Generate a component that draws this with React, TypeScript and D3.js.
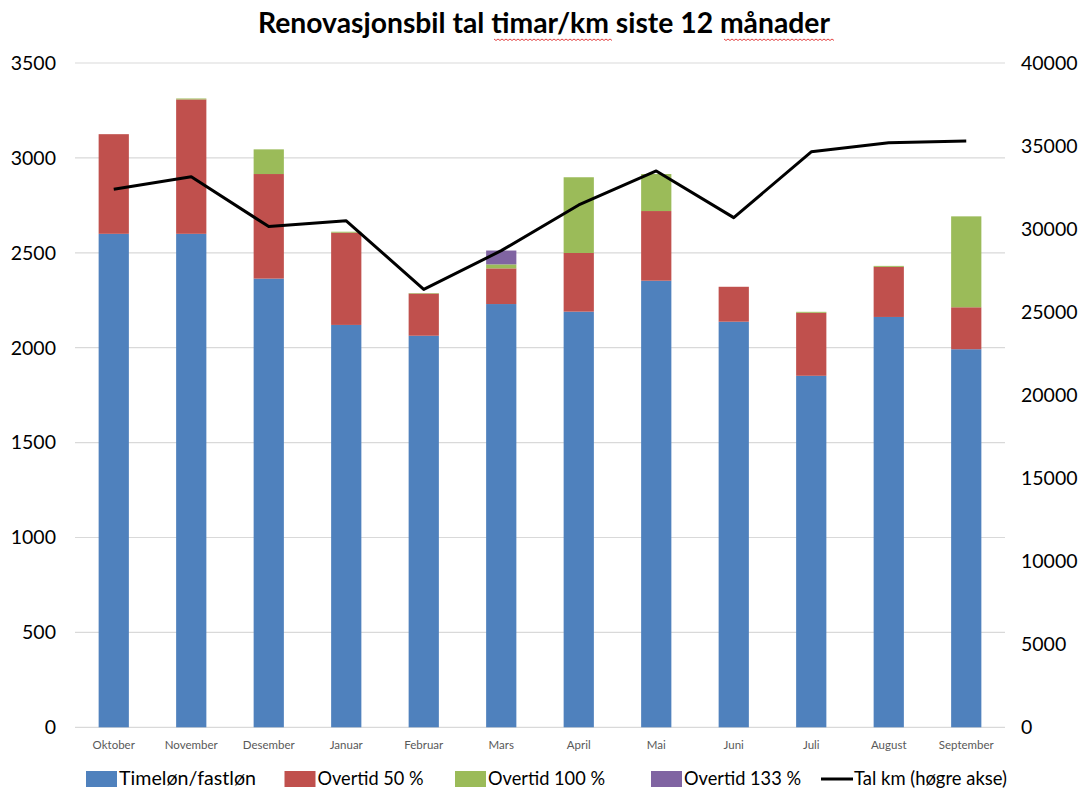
import React from "react";
import * as d3 from "d3";

const months = ["Oktober", "November", "Desember", "Januar", "Februar", "Mars", "April", "Mai", "Juni", "Juli", "August", "September"];
const timelon = [2600, 2600, 2364, 2120, 2063, 2230, 2190, 2353, 2137, 1852, 2162, 1992];
const overtid50 = [525, 708, 551, 486, 222, 188, 309, 367, 184, 332, 264, 221];
const overtid100 = [0, 5, 130, 5, 3, 21, 399, 195, 0, 5, 5, 479];
const overtid133 = [0, 0, 0, 0, 0, 73, 0, 0, 0, 0, 0, 0];
const talKm = [32400, 33150, 30150, 30500, 26370, 28700, 31450, 33500, 30690, 34650, 35200, 35300];
const leftTicks = [0, 500, 1000, 1500, 2000, 2500, 3000, 3500];
const rightTicks = [0, 5000, 10000, 15000, 20000, 25000, 30000, 35000, 40000];

const seriesNames = ["Timeløn/fastløn", "Overtid 50 %", "Overtid 100 %", "Overtid 133 %"];
const seriesData = [timelon, overtid50, overtid100, overtid133];
const colors = ["#4F81BD", "#C0504D", "#9BBB59", "#8064A2"];

const W = 1082, H = 792;
const plot = { left: 75, right: 1005, top: 63, bottom: 727.3 };
const font = "Lato, 'Open Sans', sans-serif";

function squiggle(x0: number, x1: number, yy: number) {
  const pts: [number, number][] = [];
  for (let xx = x0, k = 0; xx <= x1; xx += 2, k++) pts.push([xx, yy + (k % 2 ? 1.5 : 0)]);
  return d3.line()(pts) || "";
}

export default function App() {
  const x = d3.scaleBand<string>().domain(months).range([plot.left, plot.right]).paddingInner(0.61).paddingOuter(0.305);
  const y = d3.scaleLinear().domain([0, 3500]).range([plot.bottom, plot.top]);
  const y2 = d3.scaleLinear().domain([0, 40000]).range([plot.bottom, plot.top]);

  const table = months.map((m, i) => {
    const row: any = { month: m };
    seriesNames.forEach((s, k) => (row[s] = seriesData[k][i]));
    return row;
  });
  const stacked = d3.stack<any>().keys(seriesNames)(table);
  const center = (m: string) => (x(m) as number) + x.bandwidth() / 2;
  const line = d3.line<number>().x((_, i) => center(months[i])).y((d) => y2(d));

  const legendItems = [
    { label: seriesNames[0], kind: "rect", color: colors[0], x: 86, len: 137 },
    { label: seriesNames[1], kind: "rect", color: colors[1], x: 284.5, len: 106 },
    { label: seriesNames[2], kind: "rect", color: colors[2], x: 455, len: 117 },
    { label: seriesNames[3], kind: "rect", color: colors[3], x: 651, len: 117 },
    { label: "Tal km (høgre akse)", kind: "line", color: "#000", x: 821, len: 153 },
  ];

  return (
    <svg width={W} height={H} style={{ position: "absolute", left: 0, top: 0, background: "#fff" }} fontFamily={font}>
      <rect width={W} height={H} fill="#fff" />
      <text x={544} y={33} textAnchor="middle" fontSize={28} fontWeight={700} fill="#000" textLength={572} lengthAdjust="spacingAndGlyphs">
        Renovasjonsbil tal timar/km siste 12 månader
      </text>
      <path d={squiggle(494, 612, 39)} fill="none" stroke="#E03030" strokeWidth={0.9} />
      <path d={squiggle(724, 834, 39)} fill="none" stroke="#E03030" strokeWidth={0.9} />
      {leftTicks.map((t) => (
        <line key={"g" + t} x1={plot.left} x2={plot.right} y1={y(t)} y2={y(t)} stroke="#D9D9D9" strokeWidth={1.2} />
      ))}
      {leftTicks.map((t) => (
        <text key={"l" + t} x={56} y={y(t)} dy="0.35em" textAnchor="end" fontSize={19.5} fill="#000">
          {t}
        </text>
      ))}
      {rightTicks.map((t) => (
        <text key={"r" + t} x={1021} y={y2(t)} dy="0.35em" textAnchor="start" fontSize={19.5} fill="#000">
          {t}
        </text>
      ))}
      {stacked.map((s, k) => (
        <g key={s.key} fill={colors[k]}>
          {s.map((d, i) =>
            d[1] - d[0] > 0 ? (
              <rect key={i} x={x(months[i])} width={x.bandwidth()} y={y(d[1])} height={y(d[0]) - y(d[1])} />
            ) : null
          )}
        </g>
      ))}
      <path d={line(talKm) || ""} fill="none" stroke="#000" strokeWidth={3} strokeLinejoin="round" />
      {months.map((m) => (
        <text key={m} x={center(m)} y={749} textAnchor="middle" fontSize={11.5} fill="#595959">
          {m}
        </text>
      ))}
      {legendItems.map((it) => (
        <g key={it.label}>
          {it.kind === "rect" ? (
            <rect x={it.x} y={771} width={31} height={16} fill={it.color} />
          ) : (
            <line x1={it.x} x2={it.x + 32} y1={779} y2={779} stroke="#000" strokeWidth={3} />
          )}
          <text x={it.x + 33} y={779} dy="0.35em" fontSize={18.5} fill="#000" textLength={it.len} lengthAdjust="spacingAndGlyphs">
            {it.label}
          </text>
        </g>
      ))}
    </svg>
  );
}
